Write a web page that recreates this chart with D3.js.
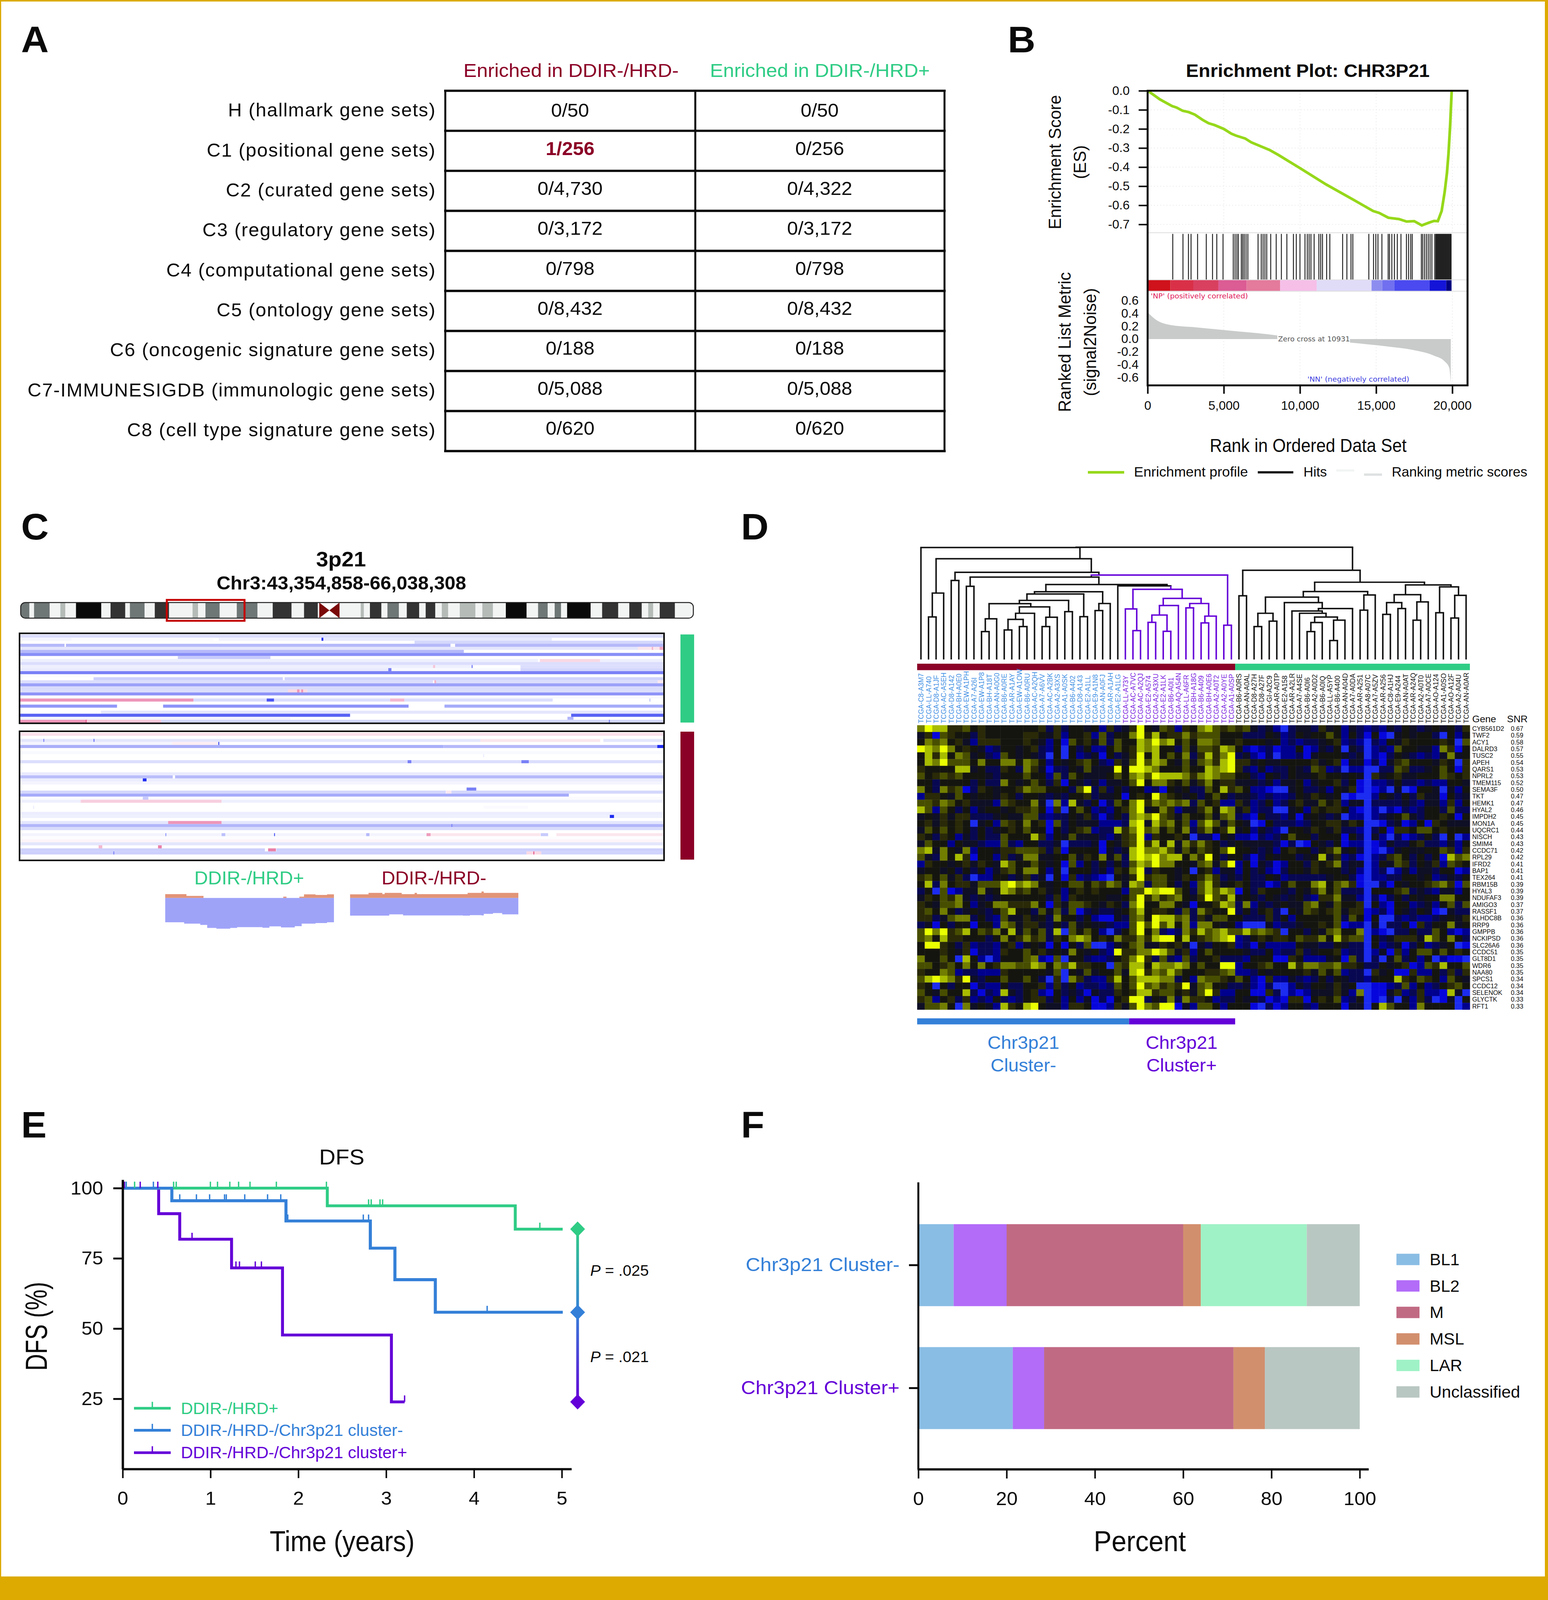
<!DOCTYPE html>
<html>
<head>
<meta charset="utf-8">
<script src="https://cdn.jsdelivr.net/npm/d3@7"></script>
<style>
  html, body { margin: 0; padding: 0; background: #fff; overflow: hidden; }
  svg { display: block; width: 100vw; height: 100vh; }
  text { font-family: "Liberation Sans", Arial, sans-serif; fill: #0a0a0a; }
</style>
</head>
<body>
<svg id="fig" viewBox="0 0 3963 4214" preserveAspectRatio="none"></svg>
<script>
const RED = '#8b0026', GREEN = '#2fcc85', BLUE = '#3480d8', PURPLE = '#6400d8', GOLD = '#dcaa00';

// panel A
const geneSets = ['H (hallmark gene sets)', 'C1 (positional gene sets)', 'C2 (curated gene sets)', 'C3 (regulatory gene sets)', 'C4 (computational gene sets)', 'C5 (ontology gene sets)', 'C6 (oncogenic signature gene sets)', 'C7-IMMUNESIGDB (immunologic gene sets)', 'C8 (cell type signature gene sets)'];
const enrichedNeg = ['0/50', '1/256', '0/4,730', '0/3,172', '0/798', '0/8,432', '0/188', '0/5,088', '0/620'];
const enrichedPos = ['0/50', '0/256', '0/4,322', '0/3,172', '0/798', '0/8,432', '0/188', '0/5,088', '0/620'];

// panel B
const esRank = [0, 100, 800, 1600, 1900, 2300, 2700, 3100, 3600, 4000, 4400, 5000, 5500, 5800, 6400, 6800, 7400, 8000, 8600, 10000, 11700, 13600, 14800, 15200, 15800, 16500, 17000, 17500, 18000, 18500, 18800, 19050, 19300, 19500, 19650, 19750, 19860, 19960];
const esScore = [0, -0.005, -0.045, -0.08, -0.088, -0.105, -0.112, -0.125, -0.152, -0.17, -0.18, -0.2, -0.225, -0.235, -0.25, -0.27, -0.29, -0.31, -0.337, -0.405, -0.49, -0.575, -0.63, -0.64, -0.665, -0.672, -0.685, -0.683, -0.705, -0.69, -0.682, -0.683, -0.63, -0.53, -0.43, -0.33, -0.18, 0];
const hitRanks = [1650, 2320, 2680, 2850, 3280, 3850, 4260, 4540, 4950, 5620, 5740, 5860, 5960, 6150, 6240, 6340, 6460, 6580, 7250, 7460, 7580, 7700, 7820, 8080, 8440, 8780, 9140, 9570, 9760, 10000, 10330, 10480, 10600, 10720, 10930, 11240, 11360, 11480, 11750, 11960, 12800, 13080, 13350, 13470, 14520, 14830, 14980, 15120, 15380, 15790, 15880, 16030, 16200, 16390, 16630, 16990, 17130, 17270, 17370, 17970, 18060, 18180, 18300, 18420, 18540, 18660, 18850, 18920, 18960, 19000, 19040, 19080, 19120, 19160, 19200, 19240, 19280, 19320, 19360, 19400, 19440, 19480, 19520, 19560, 19600, 19640, 19680, 19720, 19760, 19800, 19840, 19880, 19920];
const stripEnds = [1500, 3000, 4640, 6500, 8700, 11100, 14700, 15400, 16200, 18500, 19600, 19950];
const stripColors = ['#d0121c', '#d93048', '#d94060', '#dc5c94', '#e47a9c', '#f5bfe8', '#e0dcf8', '#8d8df0', '#7070f0', '#4a4af0', '#1414d8', '#000080'];
const metricRank = [0, 500, 1500, 3100, 5500, 7900, 8700, 10931, 13300, 15700, 17400, 18800, 19500, 19800, 19900];
const metricValue = [0.42, 0.31, 0.22, 0.185, 0.13, 0.075, 0.05, 0, -0.055, -0.115, -0.17, -0.26, -0.35, -0.45, -0.68];

// panel C, positions are in region units read along the box (44 to 1440)
const bandEnds = [64, 74, 108, 131, 142, 165, 220, 240, 272, 282, 314, 336, 367, 418, 430, 446, 477, 514, 559, 592, 633, 660, 690, 693, 737, 783, 790, 803, 828, 841, 866, 883, 910, 924, 945, 959, 973, 998, 1032, 1047, 1070, 1098, 1143, 1168, 1189, 1204, 1218, 1231, 1282, 1307, 1342, 1366, 1393, 1407, 1418, 1432, 1465, 1505];
const bandStain = 'g w g w l w k w d w g w d w l w g w g w d w d w c w l w d w g w d w d w l w l w l w k w g w g w k w d w d w l w d w'.split(' ');
const cnTop = [
  [0, 44, 1440, -.16], [1, 44, 155, -.05], [1, 155, 463, -.02], [1, 475, 698, -.06], [1, 698, 702, -1], [1, 702, 1198, -.11],
  [2, 900, 1440, -.19], [3, 44, 140, -.33], [3, 143, 978, -.33], [3, 988, 1440, -.33], [4, 44, 1385, -.12], [4, 1385, 1432, .13], [4, 1415, 1418, .4], [4, 1432, 1440, .45],
  [5, 44, 1007, -.33], [6, 44, 1440, -.53], [7, 386, 587, -.25], [8, 44, 1168, -.07], [8, 1172, 1303, .2], [8, 1303, 1440, -.07],
  [9, 44, 1440, -.155], [10, 44, 940, -.07], [10, 940, 945, .3], [10, 945, 1024, -.07], [10, 1024, 1026, -.7], [10, 1130, 1440, -.155],
  [11, 44, 843, -.1], [11, 843, 850, -.6], [11, 850, 1130, -.03], [11, 1130, 1440, -.19], [12, 44, 1440, -.6], [13, 44, 1440, -.01],
  [14, 203, 614, -.225], [14, 618, 1440, -.21], [15, 44, 940, -.155], [15, 943, 947, .4], [15, 947, 1428, -.155], [15, 1428, 1440, .12],
  [16, 44, 1440, -.44], [17, 44, 1440, -.17], [18, 44, 625, -.155], [18, 625, 667, .2], [18, 645, 650, .55], [18, 654, 658, .55], [18, 667, 1440, -.155],
  [19, 44, 1440, -.51], [20, 44, 1440, -.03], [21, 44, 420, .55], [21, 420, 579, -.17], [21, 579, 595, -.8], [21, 595, 847, -.155], [21, 847, 878, .37], [21, 878, 1200, -.15], [21, 1410, 1412, -.3],
  [23, 44, 254, -.49], [23, 354, 887, -.51], [23, 965, 1440, -.4], [25, 219, 1440, -.12],
  [26, 44, 760, -.74], [26, 1240, 1440, -.74], [27, 44, 630, -.05], [27, 1232, 1245, -.35], [28, 44, 188, .55], [28, 186, 190, .9], [28, 188, 350, .29], [28, 350, 1440, -.19], [28, 1322, 1324, -.6]
];
const cnBottom = [
  [0, 44, 1440, .16], [2, 44, 1043, -.12], [2, 94, 96, -.6], [2, 203, 205, -.7], [2, 1043, 1303, .13], [2, 1310, 1440, -.12],
  [3, 44, 373, -.05], [3, 373, 475, .09], [3, 474, 476, -.9], [4, 44, 963, -.38], [4, 963, 1427, -.33], [4, 1427, 1440, -1],
  [6, 44, 1440, -.03], [7, 1049, 1051, -.1], [9, 44, 1440, -.155], [9, 885, 893, -.6], [9, 1132, 1148, -.6], [13, 44, 1440, -.1],
  [14, 44, 375, -.31], [14, 380, 1440, -.33], [15, 44, 1440, -.085], [15, 310, 318, -1], [16, 44, 1440, -.05], [18, 1013, 1034, -.6],
  [19, 44, 968, -.19], [19, 969, 980, .12], [19, 980, 1440, -.19], [20, 44, 1235, -.4], [21, 44, 1440, -.02], [21, 310, 322, -.25],
  [22, 44, 175, -.07], [22, 175, 481, .25], [22, 481, 1440, -.07], [24, 1050, 1147, -.02], [24, 72, 74, -.1], [26, 44, 1440, -.085],
  [27, 44, 1440, -.07], [27, 1324, 1333, -1], [29, 44, 365, -.12], [29, 365, 481, .55], [29, 481, 1440, -.12], [30, 44, 1440, -.35], [30, 980, 982, -.6],
  [31, 44, 1440, -.17], [33, 44, 930, -.05], [33, 359, 361, -.5], [33, 481, 489, -.3], [33, 595, 597, -.8], [33, 795, 802, -.33], [33, 926, 935, .52], [33, 935, 1173, .13], [33, 1174, 1190, -.25], [33, 1208, 1440, .13],
  [34, 44, 1440, -.01], [35, 44, 1440, .05], [36, 44, 1440, -.12], [37, 214, 222, .37], [37, 343, 351, .67],
  [38, 44, 575, -.225], [38, 582, 599, .67], [38, 600, 1440, -.225], [39, 44, 1143, -.225], [39, 246, 248, -.6], [39, 1143, 1175, .2], [39, 1158, 1160, .9], [39, 1175, 1440, -.21]
];
const profNegPos = [359, 405, 442, 615, 622, 650, 660, 685, 710, 725];
const profNegGain = [15, 8, 0, 5, 0, 5, 14, 12, 14, 16];
const profNegLossPos = [359, 400, 435, 450, 470, 500, 515, 570, 585, 610, 640, 655, 685, 710, 725];
const profNegLoss = [95, 100, 105, 117, 120, 117, 114, 116, 111, 115, 110, 100, 98, 95, 95];
const profPosPos = [760, 800, 830, 835, 872, 900, 905, 1015, 1045, 1050, 1125];
const profPosGain = [14, 20, 15, 20, 15, 20, 15, 20, 25, 20, 20];
const profPosLossPos = [760, 845, 875, 1005, 1020, 1045, 1050, 1070, 1090, 1125];
const profPosLoss = [69, 64, 68, 69, 67, 68, 62, 59, 64, 64];

// panel D
const samples = ['C8-A3M7', 'LL-A740', 'D8-A1JF', 'AC-A5EH', 'D8-A142', 'BH-A0E0', 'EW-A1PH', 'A7-A26I', 'EW-A1P8', 'BH-A18T', 'AN-A0G0', 'B6-A0RE', 'AR-A1AY', 'EW-A1OW', 'B6-A0RU', 'AC-A2QH', 'A7-A6VV', 'AC-A2BK', 'A2-A3XS', 'A1-A0SK', 'B6-A402', 'D8-A143', 'E2-A1LL', 'E9-A1N8', 'AN-A0FJ', 'AR-A1AH', 'E2-A1LG',
  'LL-A73Y', 'AC-A7VC', 'AC-A2QJ', 'E2-A574', 'A2-A3XU', 'E2-A1LK', 'B6-A0I1', 'AQ-A54N', 'LL-A6FR', 'BH-A18G', 'B6-A409', 'BH-A0E6', 'A2-A0T2', 'A2-A0YE', 'A1-A0SP',
  'B6-A0RS', 'AN-A0AL', 'D8-A27H', 'D8-A27F', 'GI-A2C9', 'AR-A0TP', 'E2-A158', 'AR-A2LR', 'A7-A4SE', 'B6-A0I6', 'A2-A0D2', 'B6-A0IQ', 'LL-A5YP', 'B6-A400', 'AN-A04D', 'A7-A0DA', 'AR-A251', 'A8-A07C', 'A7-A5ZV', 'AR-A256', 'C8-A1HJ', 'E9-A244', 'AN-A0AT', 'AR-A24Q', 'A2-A0T0', 'A7-A0CE', 'AO-A124', 'A1-A0SO', 'AO-A12F', 'A2-A04U', 'AN-A0AR'];
const genes = ['CYB561D2', 'TWF2', 'ACY1', 'DALRD3', 'TUSC2', 'APEH', 'QARS1', 'NPRL2', 'TMEM115', 'SEMA3F', 'TKT', 'HEMK1', 'HYAL2', 'IMPDH2', 'MON1A', 'UQCRC1', 'NISCH', 'SMIM4', 'CCDC71', 'RPL29', 'IFRD2', 'BAP1', 'TEX264', 'RBM15B', 'HYAL3', 'NDUFAF3', 'AMIGO3', 'RASSF1', 'KLHDC8B', 'RRP9', 'GMPPB', 'NCKIPSD', 'SLC26A6', 'CCDC51', 'GLT8D1', 'WDR6', 'NAA80', 'SPCS1', 'CCDC12', 'SELENOK', 'GLYCTK', 'RFT1'];
const snr = ['0.67', '0.59', '0.58', '0.57', '0.55', '0.54', '0.53', '0.53', '0.52', '0.50', '0.47', '0.47', '0.46', '0.45', '0.45', '0.44', '0.43', '0.43', '0.42', '0.42', '0.41', '0.41', '0.41', '0.39', '0.39', '0.39', '0.37', '0.37', '0.36', '0.36', '0.36', '0.36', '0.36', '0.35', '0.35', '0.35', '0.35', '0.34', '0.34', '0.34', '0.33', '0.33'];
// expression level per cell, 0 = bright blue, 5 = black, a = bright yellow
const heatCols0to43 = [
  '8a99667565 5555556363 554526346a 5476265897 6767',
  '4617655365 5555665462 556273558a 6956686777 5553',
  '5878564266 6555654251 7564737559 8a89575887 5565',
  'a98a856542 3554563250 5352257569 8955374776 9852',
  '5969587453 2754543050 523415346a 5957583696 8a34',
  '598a777585 5885875254 567532647a 7985474786 9a66',
  '6555599453 3653864133 547444a5aa 9855575598 9a63',
  '7567675554 3555755273 7544457589 7a99986898 7755',
  '5535555353 3854575361 543424457a 5886574685 6644',
  '8538671365 4556877555 37a3635355 2315453375 9675',
  '2665475455 4653554343 5563445156 5a76545357 5344',
  '7768756444 2765584082 943513758a 6878783756 2264',
  '9727535245 5456675160 575232568a 4586244685 9846',
  '4546466333 4544773233 5463135389 8a76475574 7832',
  '5646565045 2765856173 544422239a 4978572797 4754',
  '4757565353 4565755153 567233968a 7857583685 6945',
  '6536524353 3755596254 744432467a 2655650331 5422',
  '4755254432 2732553340 333415467a 6959486865 3454',
  '8948548255 4667776361 555514349a 8897475765 7a55',
  '7438596155 2634884455 746584739a 9a899586a5 3553',
  '2655456465 4975575451 7253535379 8a88554784 7a25',
  '4554535352 4675885250 555342658a 3655450562 4425',
  '6757463022 5534634051 623210546a 6775465686 3435',
  '5938566477 79a8985455 7757687498 3775352796 4565',
  '3507124484 5986756452 5656555277 a9aa753797 9815',
  '4657684343 4555555362 655554457a 68678546a7 6945',
  '6547785245 8866685164 776546538a 5588541556 9838',
  '6758534543 5795537473 7134334579 5665373865 5a35',
  '6634788353 2744645385 5352114378 5a99783647 7553',
  '3415355155 2874664353 745443227a 7a79582885 4520',
  '7a8a679576 8594757390 757520357a 5832386978 9779',
  '7859665553 5856867365 8985658668 69aa595678 9a23',
  '5aa6536233 2562454151 5370024578 4465640435 5623',
  '5556546133 2655756454 854532a668 8a97462575 5554',
  '8557509520 2555782170 553223568a 6373273556 3332',
  '7756758585 6887798587 9665507699 5988985755 aa25',
  '6558723322 2655555470 547455749a 6879755566 7822',
  '79a986a435 5755753060 8632269579 9988352877 6575',
  '6505355132 2533556263 523323757a 78676a4785 5334',
  '7547559313 2943562153 4314336569 96775647a6 2255',
  '6725636232 5323566352 52413156aa 3548386652 3354',
  '4778508454 29659a5442 665112647a 87aa142775 2555'
];
const heatCols44to72 = [
  '4342034436 4524323243 543454536', '3354235455 7525315104 545530525', '5545232334 5623203254 655556507',
  '1231225124 3504302327 554428615', '2130223145 5543402135 432324845', '4544555564 5614413146 755546506',
  '2423354376 2302200337 633457516', '3254354456 5545406456 445557656', '4342445245 5635102235 332322554',
  '2210045334 2546101204 015540425', '3232235465 4501002543 536441534', '2352356447 5624403333 432442625',
  '2330045265 6652102021 323553733', '1533241454 3402202345 743556515', '0153332355 6646500134 125165444',
  '2432055465 4633203516 657756555', '1323575535 5515304203 123530502', '4443130154 3512201243 356332425',
  '4342565535 6845301024 544557626', '1354553459 4623102367 535351978', '1431255365 6834402547 635462765',
  '3421355465 5534202302 424435512', '3354233333 4553102233 554523435', '3312575589 5786100315 455678617',
  '3655435468 5733305556 734324425', '4354345326 6844203135 354558855', '2434544785 4755605215 523425737',
  '3563054765 6746612315 435410433', '3363525555 5737515003 232234546', '0042334556 5712204033 516355845',
  '7876055354 7855802103 353375212', '5656657668 5967705346 664975853', '1422225443 3543305234 135234501',
  '3352336345 5623302416 257757565', '5551165222 4517303047 352502110', '5675596887 7866533545 612769557',
  '3545555647 5723306451 162253636', '2162243235 3543325559 657652754', '2130024355 4645001123 725235675',
  '1163021244 4642801146 236221940', '4312166156 5723501030 426301405', '1031255325 5514405975 528555502'
];
const heatPalette = ['#1c2cf0', '#0606dc', '#00008e', '#080852', '#0f0f26', '#151510', '#2a2a08', '#484e00', '#727e00', '#a8bc00', '#eaff00'];
// [merge height, left, right], a plain number is a leaf
const dendrogram = [828,
  [826, 0,
    [743, [490, [314, 1, 2], 3],
      [643, [583, 4, 5],
        [623,
          [608, [540, 6, 7],
            [553,
              [500,
                [483,
                  [436,
                    [412, [300, [206, 8, 9], 10],
                      [388, [341, [296, [218, 11, 12], [243, 13, 14]], 15], [312, [243, 16, 17], 18]]],
                    [353, 19, 20]],
                  [316, 21, 22]],
                [413, [361, 23, 24], 25]],
              [543, 26,
                [518, [373, 27, [213, 28, 29]],
                  [451,
                    [398, [328, [274, 30, 31], [208, 32, 33]], 34],
                    [413, [381, 35, 36], [320, [270, 37, 38], 39]]]]]]],
          [253, 40, 41]]]]],
  [658, [470, 42, 43],
    [570,
      [501,
        [460,
          [341, [243, 44, 45], [283, 46, 47]],
          [420, 48,
            [376,
              [358, 49,
                [341, 50,
                  [313, [273, [206, 51, 52], 53], [290, [140, 54, 55], 56]]]],
              57]]],
        [476, [364, 58, 59], 60]],
      [550,
        [478,
          [420, [333, 61, 62], [376, 63, 64]],
          [425, [290, 65, 66], 67]],
        [536, [345, 68, 69], [473, [306, 70, 71], 72]]]]]];

// panel E
const kmSeries = [
  { name: 'DDIR-/HRD+', color: GREEN, time: [0, 2.33, 4.47, 5.01], surv: [100, 93.7, 85.4, 85.4], censor: [[.04, 100], [.136, 100], [.58, 100], [.61, 100], [.999, 100], [1.08, 100], [1.22, 100], [1.32, 100], [1.45, 100], [1.75, 100], [2.32, 100], [2.80, 93.7], [2.83, 93.7], [2.93, 93.7], [2.96, 93.7], [4.75, 85.4]] },
  { name: 'DDIR-/HRD-/Chr3p21 cluster-', color: BLUE, time: [0, .56, 1.86, 2.82, 3.1, 3.56, 5.01], surv: [100, 95.5, 88.3, 78.6, 67.4, 55.8, 55.8], censor: [[.04, 100], [.35, 100], [.65, 95.5], [.84, 95.5], [.99, 95.5], [1.16, 95.5], [1.18, 95.5], [1.39, 95.5], [1.65, 95.5], [1.80, 95.5], [1.88, 88.3], [2.74, 88.3], [2.80, 88.3], [4.15, 55.8]] },
  { name: 'DDIR-/HRD-/Chr3p21 cluster+', color: PURPLE, time: [0, .41, .65, 1.24, 1.82, 3.06, 3.21], surv: [100, 90.9, 81.8, 71.6, 47.7, 23.9, 23.9], censor: [[.02, 100], [.2, 100], [.4, 100], [.79, 81.8], [1.29, 71.6], [1.33, 71.6], [1.51, 71.6], [1.58, 71.6], [3.21, 23.9]] }
];

// panel F
const subtypes = ['BL1', 'BL2', 'M', 'MSL', 'LAR', 'Unclassified'];
const subtypeColors = ['#8abde4', '#b26cf8', '#c16a84', '#d28f6e', '#9ff2c6', '#b9c7c2'];
const clusterNames = ['Chr3p21 Cluster-', 'Chr3p21 Cluster+'];
const clusterColors = [BLUE, PURPLE];
const clusterPct = [[8, 12, 40, 4, 24, 12], [21.4, 7.1, 42.9, 7.1, 0, 21.5]];

const svg = d3.select('#fig');

function txt(parent, x, y, str, o) {
  o = o || {};
  const t = parent.append('text').attr('x', x).attr('y', y).text(str)
    .style('font-size', (o.size || 45) + 'px')
    .attr('text-anchor', o.anchor || 'start');
  if (o.fill) t.style('fill', o.fill);
  if (o.bold) t.style('font-weight', 'bold');
  if (o.family) t.style('font-family', o.family);
  if (o.spacing) t.style('letter-spacing', o.spacing + 'px');
  if (o.width) t.attr('textLength', o.width).attr('lengthAdjust', 'spacingAndGlyphs');
  if (o.rotate) t.attr('transform', `rotate(${o.rotate},${x},${y})`);
  return t;
}

function styleAxis(g, width, size) {
  g.selectAll('path').attr('stroke', '#0a0a0a').attr('stroke-width', width);
  g.selectAll('line').attr('stroke', '#0a0a0a').attr('stroke-width', width);
  g.selectAll('text').style('font-size', size + 'px').style('font-family', '"Liberation Sans"').style('fill', '#0a0a0a');
}

// page frame
svg.append('rect').attr('width', 3963).attr('height', 4214).attr('fill', '#fff');
[[0, 0, 3963, 4], [0, 0, 3, 4214], [3955, 0, 8, 4214], [0, 4152, 3963, 62]].forEach(r => {
  svg.append('rect').attr('x', r[0]).attr('y', r[1]).attr('width', r[2]).attr('height', r[3]).attr('fill', GOLD);
});

[['A', 54, 138], ['B', 2580, 138], ['C', 54, 1421], ['D', 1897, 1421], ['E', 54, 2996], ['F', 1897, 2996]].forEach(p => {
  txt(svg, p[1], p[2], p[0], { size: 98, bold: true });
});

drawTable();
drawEnrichment();
drawCopyNumber();
drawHeatmap();
drawSurvival();
drawSubtypes();

function drawTable() {
  const g = svg.append('g');
  const rowY = d3.scaleBand().domain(d3.range(geneSets.length)).range([239, 1188]);
  const colX = d3.scaleBand().domain([0, 1]).range([1140, 2418]);
  txt(g, 1462, 203, 'Enriched in DDIR-/HRD-', { size: 49, fill: RED, anchor: 'middle', width: 551 });
  txt(g, 2099, 203, 'Enriched in DDIR-/HRD+', { size: 49, fill: GREEN, anchor: 'middle', width: 563 });
  geneSets.forEach((name, i) => {
    txt(g, 1116, 307 + 105.3 * i, name, { size: 49, anchor: 'end', spacing: 1.8 });
    const base = i === 0 ? 308 : 408 + 105.3 * (i - 1);
    txt(g, colX(0) + colX.bandwidth() / 2, base, enrichedNeg[i], i === 1 ? { size: 50, anchor: 'middle', fill: RED, bold: true } : { size: 50, anchor: 'middle' });
    txt(g, colX(1) + colX.bandwidth() / 2, base, enrichedPos[i], { size: 50, anchor: 'middle' });
  });
  rowY.domain().concat(geneSets.length).forEach(i => {
    const y = i === geneSets.length ? 1188 : rowY(i);
    g.append('line').attr('x1', 1137).attr('x2', 2421).attr('y1', y).attr('y2', y).attr('stroke', '#0a0a0a').attr('stroke-width', 6);
  });
  [1140, 1780, 2418].forEach(x => {
    g.append('line').attr('x1', x).attr('x2', x).attr('y1', 239).attr('y2', 1188).attr('stroke', '#0a0a0a').attr('stroke-width', 5);
  });
}

function drawEnrichment() {
  const g = svg.append('g');
  const L = 2938, R = 3757, T = 239, B = 1015;
  const x = d3.scaleLinear().domain([0, 20000]).range([L, 3718]);
  const yEs = d3.scaleLinear().domain([-0.7, 0]).range([591, 239]);
  const yM = d3.scaleLinear().domain([-0.6, 0.6]).range([994, 792]);

  // faint grid
  d3.range(5000, 20001, 5000).forEach(v => {
    g.append('line').attr('x1', x(v)).attr('x2', x(v)).attr('y1', T).attr('y2', 611).attr('stroke', '#eee').attr('stroke-dasharray', '3 5').attr('stroke-width', 2);
    g.append('line').attr('x1', x(v)).attr('x2', x(v)).attr('y1', 770).attr('y2', B).attr('stroke', '#eee').attr('stroke-dasharray', '3 5').attr('stroke-width', 2);
  });
  d3.range(-0.7, 0, 0.1).forEach(v => {
    g.append('line').attr('x1', L).attr('x2', R).attr('y1', yEs(v)).attr('y2', yEs(v)).attr('stroke', '#eee').attr('stroke-dasharray', '3 5').attr('stroke-width', 2);
  });

  // ranked metric
  const area = d3.area().x((d, i) => x(metricRank[i])).y0(yM(0)).y1(d => yM(d)).curve(d3.curveMonotoneX);
  g.append('path').datum(metricValue).attr('d', area).attr('fill', '#c9cbcb');

  // hits
  g.selectAll('line.hit').data(hitRanks).enter().append('line').attr('class', 'hit')
    .attr('x1', d => x(d)).attr('x2', d => x(d)).attr('y1', 616).attr('y2', 737)
    .attr('stroke', '#222').attr('stroke-width', 2.4);

  // colour strip
  g.selectAll('rect.strip').data(stripEnds).enter().append('rect').attr('class', 'strip')
    .attr('x', (d, i) => x(i ? stripEnds[i - 1] : 0)).attr('width', (d, i) => x(d) - x(i ? stripEnds[i - 1] : 0))
    .attr('y', 737).attr('height', 30).attr('fill', (d, i) => stripColors[i]);
  [613, 737, 767].forEach(y => {
    g.append('line').attr('x1', L).attr('x2', R).attr('y1', y).attr('y2', y).attr('stroke', '#ddd').attr('stroke-width', 2);
  });

  // enrichment profile
  const line = d3.line().x((d, i) => x(esRank[i])).y(d => yEs(d));
  g.append('path').datum(esScore).attr('d', line).attr('fill', 'none').attr('stroke', '#96d81a').attr('stroke-width', 7);

  g.append('rect').attr('x', 3270).attr('y', 876).attr('width', 186).attr('height', 30).attr('fill', '#fff');
  const small = { family: '"DejaVu Sans"', size: 18 };
  txt(g, 3272, 899, 'Zero cross at 10931', Object.assign({ fill: '#555', width: 184 }, small));
  txt(g, 2946, 786, "'NP' (positively correlated)", Object.assign({ fill: '#e0205a', width: 249 }, small));
  txt(g, 3347, 1005, "'NN' (negatively correlated)", Object.assign({ fill: '#4040e0', width: 261 }, small));

  // frame and axes
  g.append('rect').attr('x', L).attr('y', T).attr('width', R - L).attr('height', B - T).attr('fill', 'none').attr('stroke', '#0a0a0a').attr('stroke-width', 5);
  const axL = g.append('g').attr('transform', `translate(${L},0)`)
    .call(d3.axisLeft(yEs).tickValues([-0.7, -0.6, -0.5, -0.4, -0.3, -0.2, -0.1, 0]).tickSize(23).tickPadding(23).tickFormat(d => d.toFixed(1)));
  styleAxis(axL, 4, 32);
  axL.select('.domain').remove();
  const axM = g.append('g').attr('transform', `translate(${L},0)`)
    .call(d3.axisLeft(yM).tickValues([-0.6, -0.4, -0.2, 0, 0.2, 0.4, 0.6]).tickSize(0).tickPadding(23).tickFormat(d => d.toFixed(1)));
  styleAxis(axM, 4, 32);
  axM.select('.domain').remove();
  const axB = g.append('g').attr('transform', `translate(0,${B})`)
    .call(d3.axisBottom(x).tickValues([0, 5000, 10000, 15000, 20000]).tickSize(22).tickPadding(20).tickFormat(d3.format(',')));
  styleAxis(axB, 4, 32);
  axB.select('.domain').remove();

  txt(g, 3348, 203, 'Enrichment Plot: CHR3P21', { size: 48, bold: true, anchor: 'middle', width: 624 });
  txt(g, 2716, 427, 'Enrichment Score', { size: 44.5, anchor: 'middle', rotate: -90 });
  txt(g, 2780, 427, '(ES)', { size: 44.5, anchor: 'middle', rotate: -90 });
  txt(g, 2741, 901, 'Ranked List Metric', { size: 44.5, anchor: 'middle', rotate: -90 });
  txt(g, 2806, 901, '(signal2Noise)', { size: 44.5, anchor: 'middle', rotate: -90 });
  txt(g, 3349, 1190, 'Rank in Ordered Data Set', { size: 50, anchor: 'middle', width: 504 });

  // legend
  const leg = g.append('g');
  leg.append('line').attr('x1', 2785).attr('x2', 2878).attr('y1', 1244).attr('y2', 1244).attr('stroke', '#96d81a').attr('stroke-width', 7);
  leg.append('line').attr('x1', 3220).attr('x2', 3311).attr('y1', 1244).attr('y2', 1244).attr('stroke', '#111').attr('stroke-width', 6);
  leg.append('line').attr('x1', 3421).attr('x2', 3467).attr('y1', 1239).attr('y2', 1239).attr('stroke', '#f2f4f4').attr('stroke-width', 6);
  leg.append('line').attr('x1', 3492).attr('x2', 3538).attr('y1', 1250).attr('y2', 1250).attr('stroke', '#dfe2e2').attr('stroke-width', 6);
  txt(leg, 2903, 1255, 'Enrichment profile', { size: 36, width: 292 });
  txt(leg, 3337, 1255, 'Hits', { size: 36, width: 60 });
  txt(leg, 3563, 1255, 'Ranking metric scores', { size: 36, width: 347 });
}

function drawCopyNumber() {
  const g = svg.append('g');
  txt(g, 873, 1492, '3p21', { size: 56, bold: true, anchor: 'middle' });
  txt(g, 874, 1552, 'Chr3:43,354,858-66,038,308', { size: 49, bold: true, anchor: 'middle', width: 639 });

  // ideogram
  const idx = d3.scaleLinear().domain([45, 1505]).range([53, 1775]);
  const top = 1587, bot = 1628;
  const stain = { w: '#f2f4f3', l: '#b5bcb8', g: '#6f7676', d: '#333', k: '#0a0a0a', c: '#fff' };
  const clip = g.append('clipPath').attr('id', 'chrClip');
  clip.append('rect').attr('x', idx(45)).attr('y', top).attr('width', idx(1505) - idx(45)).attr('height', bot - top).attr('rx', 12);
  const ideo = g.append('g').attr('clip-path', 'url(#chrClip)');
  ideo.selectAll('rect').data(bandEnds).enter().append('rect')
    .attr('x', (d, i) => idx(i ? bandEnds[i - 1] : 45)).attr('width', (d, i) => idx(d) - idx(i ? bandEnds[i - 1] : 45))
    .attr('y', top).attr('height', bot - top).attr('fill', (d, i) => stain[bandStain[i]]);
  const cenL = idx(693), cenR = idx(737), cenM = idx(715), cenY = (top + bot) / 2;
  g.append('path').attr('d', `M${cenL},${top}L${cenM},${cenY}L${cenL},${bot}Z M${cenR},${top}L${cenM},${cenY}L${cenR},${bot}Z`).attr('fill', '#7b0a0a');
  g.append('rect').attr('x', idx(45)).attr('y', top).attr('width', idx(1505) - idx(45)).attr('height', bot - top).attr('rx', 12).attr('fill', 'none').attr('stroke', '#222').attr('stroke-width', 2.5);
  g.append('rect').attr('x', 427).attr('y', 1580).attr('width', 199).attr('height', 55).attr('fill', 'none').attr('stroke', '#c40000').attr('stroke-width', 5);

  // segment tables
  const pos = d3.scaleLinear().domain([44, 1440]).range([52, 1698]);
  const cn = d3.scaleLinear().domain([-1, 0, 1]).range(['#1f2cf0', '#ffffff', '#e0407f']);
  function panel(segs, y0, boxTop, boxBot) {
    g.append('g').selectAll('rect').data(segs).enter().append('rect')
      .attr('x', d => pos(d[1])).attr('width', d => pos(d[2]) - pos(d[1]))
      .attr('y', d => y0 + d[0] * 8.01).attr('height', 8.1).attr('fill', d => cn(d[3]));
    g.append('rect').attr('x', 50).attr('y', boxTop).attr('width', 1650).attr('height', boxBot - boxTop).attr('fill', 'none').attr('stroke', '#0a0a0a').attr('stroke-width', 4);
  }
  panel(cnTop, 1671.5, 1668, 1905);
  panel(cnBottom, 1930, 1926, 2266);
  g.append('rect').attr('x', 1742).attr('y', 1671).attr('width', 35).attr('height', 232).attr('fill', GREEN);
  g.append('rect').attr('x', 1742).attr('y', 1927).attr('width', 35).attr('height', 337).attr('fill', RED);

  txt(g, 638, 2329, 'DDIR-/HRD+', { size: 50, anchor: 'middle', fill: GREEN, width: 281 });
  txt(g, 1111, 2329, 'DDIR-/HRD-', { size: 50, anchor: 'middle', fill: RED, width: 268 });

  // gain and loss profiles under the labels
  const px = d3.scaleLinear().domain([359, 1125]).range([423, 1327]);
  const base = 2365;
  const depth = d3.scaleLinear().domain([0, 120]).range([0, 81]);
  function profile(p, v, up, color) {
    const a = d3.area().x((d, i) => px(p[i])).y0(base).y1(d => up ? base - depth(d) : base + depth(d)).curve(d3.curveStepAfter);
    g.append('path').datum(v).attr('d', a).attr('fill', color);
  }
  profile(profNegPos, profNegGain, true, '#e29478');
  profile(profNegLossPos, profNegLoss, false, '#9fa3f8');
  profile(profPosPos, profPosGain, true, '#e29478');
  profile(profPosLossPos, profPosLoss, false, '#9fa3f8');
}

function drawHeatmap() {
  const g = svg.append('g');
  const col = d3.scaleBand().domain(d3.range(samples.length)).range([2348, 3763]);
  const row = d3.scaleBand().domain(d3.range(genes.length)).range([1910, 2659]);
  const level = d3.scaleQuantize().domain([0, 11]).range(heatPalette);
  const cells = [];
  genes.forEach((gene, r) => {
    const codes = (heatCols0to43[r] + heatCols44to72[r]).replace(/ /g, '');
    codes.split('').forEach((c, k) => cells.push({ r: r, k: k, v: parseInt(c, 16) + 0.5 }));
  });
  g.append('g').selectAll('rect').data(cells).enter().append('rect')
    .attr('x', d => col(d.k)).attr('y', d => row(d.r))
    .attr('width', col.bandwidth() + 0.4).attr('height', row.bandwidth() + 0.4)
    .attr('fill', d => level(d.v));

  // dendrogram
  const root = d3.hierarchy(dendrogram, d => Array.isArray(d) ? d.slice(1) : null);
  const yH = d3.scaleLinear().domain([0, 826]).range([1737, 1442]);
  const leafX = n => col(n.data) + col.bandwidth() / 2;
  root.each(n => { n.px = d3.mean(n.leaves(), leafX); n.h = Array.isArray(n.data) ? n.data[0] : 0; });
  const isPurple = n => n.leaves().every(l => l.data >= 27 && l.data <= 41);
  const links = [];
  root.descendants().filter(n => n.children).forEach(n => {
    const xs = n.children.map(c => c.px);
    const mergedAcross = n.h === 623;
    links.push({ x1: d3.min(xs) - 1.9, x2: d3.max(xs) + 1.9, y1: yH(n.h), y2: yH(n.h), purple: isPurple(n) || mergedAcross });
    n.children.forEach(c => links.push({ x1: c.px, x2: c.px, y1: yH(n.h), y2: yH(c.h), purple: isPurple(c) }));
  });
  links.sort((a, b) => a.purple - b.purple);
  g.append('g').selectAll('line').data(links).enter().append('line')
    .attr('x1', d => d.x1).attr('x2', d => d.x2).attr('y1', d => d.y1).attr('y2', d => d.y2)
    .attr('stroke', d => d.purple ? PURPLE : '#111').attr('stroke-width', 3.8);

  // class bars
  g.append('rect').attr('x', col(0)).attr('y', 1748).attr('width', col(42) - col(0)).attr('height', 17).attr('fill', RED);
  g.append('rect').attr('x', col(42)).attr('y', 1748).attr('width', 3763 - col(42)).attr('height', 17).attr('fill', GREEN);
  g.append('rect').attr('x', col(0)).attr('y', 2682).attr('width', col(28) - col(0)).attr('height', 16).attr('fill', BLUE);
  g.append('rect').attr('x', col(28)).attr('y', 2682).attr('width', col(42) - col(28)).attr('height', 16).attr('fill', PURPLE);

  // sample labels
  samples.forEach((s, i) => {
    const c = i < 27 ? '#3f8fe4' : i < 42 ? '#7a1ce0' : '#111';
    txt(g, col(i) + col.bandwidth() / 2 + 6.5, 1905, 'TCGA-' + s, { size: 18, fill: c, rotate: -90 });
  });

  // gene table
  txt(g, 3769, 1902, 'Gene', { size: 25 });
  txt(g, 3858, 1902, 'SNR', { size: 25 });
  genes.forEach((gene, r) => {
    const y = row(r) + row.bandwidth() / 2 + 6;
    txt(g, 3769, y, gene, { size: 16.3 });
    txt(g, 3868, y, snr[r], { size: 16.3 });
  });

  txt(g, 2620, 2762, 'Chr3p21', { size: 48, fill: BLUE, anchor: 'middle' });
  txt(g, 2620, 2822, 'Cluster-', { size: 48, fill: BLUE, anchor: 'middle' });
  txt(g, 3025, 2762, 'Chr3p21', { size: 48, fill: PURPLE, anchor: 'middle' });
  txt(g, 3025, 2822, 'Cluster+', { size: 48, fill: PURPLE, anchor: 'middle' });
}

function drawSurvival() {
  const g = svg.append('g');
  const x = d3.scaleLinear().domain([0, 5.11]).range([314, 1463]);
  const y = d3.scaleLinear().domain([0, 103]).range([3869, 3107]);
  const line = d3.line().curve(d3.curveStepAfter);

  // last series on top, the blue runs over the green at first
  kmSeries.slice().reverse().concat([kmSeries[1]]).forEach(s => {
    g.append('path').attr('d', line(s.time.map((t, i) => [x(t), y(s.surv[i])])))
      .attr('fill', 'none').attr('stroke', s.color).attr('stroke-width', 7.5);
  });
  kmSeries.forEach(s => {
    g.append('g').selectAll('line').data(s.censor).enter().append('line')
      .attr('x1', d => x(d[0])).attr('x2', d => x(d[0])).attr('y1', d => y(d[1])).attr('y2', d => y(d[1]) - 17)
      .attr('stroke', s.color).attr('stroke-width', 3.5);
  });

  const axX = g.append('g').attr('transform', `translate(0,${y(0)})`)
    .call(d3.axisBottom(x).tickValues([0, 1, 2, 3, 4, 5]).tickSize(24).tickSizeOuter(0).tickPadding(34).tickFormat(d3.format('d')));
  styleAxis(axX, 6, 50);
  axX.selectAll('.tick line').attr('stroke-width', 4);
  const axY = g.append('g').attr('transform', `translate(${x(0)},0)`)
    .call(d3.axisLeft(y).tickValues([25, 50, 75, 100]).tickSize(24).tickSizeOuter(0).tickPadding(26));
  styleAxis(axY, 6, 50);
  axY.selectAll('.tick line').attr('stroke-width', 5);

  // comparison bracket
  const bx = x(5.18);
  const ends = kmSeries.map(s => s.surv[s.surv.length - 1]);
  const grad = svg.append('defs').append('linearGradient').attr('id', 'bracket')
    .attr('gradientUnits', 'userSpaceOnUse').attr('x1', 0).attr('x2', 0).attr('y1', y(ends[0])).attr('y2', y(ends[2]));
  grad.append('stop').attr('offset', 0).attr('stop-color', GREEN);
  grad.append('stop').attr('offset', (y(ends[1]) - y(ends[0])) / (y(ends[2]) - y(ends[0]))).attr('stop-color', BLUE);
  grad.append('stop').attr('offset', 1).attr('stop-color', PURPLE);
  g.append('rect').attr('x', bx - 3.5).attr('y', y(ends[0])).attr('width', 7).attr('height', y(ends[2]) - y(ends[0])).attr('fill', 'url(#bracket)');
  kmSeries.forEach((s, i) => {
    g.append('path').attr('d', `M${bx},${y(ends[i]) - 20}L${bx + 19},${y(ends[i])}L${bx},${y(ends[i]) + 20}L${bx - 19},${y(ends[i])}Z`).attr('fill', s.color);
  });
  [['.025', 3360], ['.021', 3587]].forEach(p => {
    const t = txt(g, 1511, p[1], '', { size: 40 });
    t.append('tspan').style('font-style', 'italic').text('P');
    t.append('tspan').text(' = ' + p[0]);
  });

  // legend
  [3709, 3767, 3826].forEach((ly, i) => {
    const s = kmSeries[i];
    g.append('line').attr('x1', 343).attr('x2', 437).attr('y1', ly).attr('y2', ly).attr('stroke', s.color).attr('stroke-width', 7);
    g.append('line').attr('x1', 390).attr('x2', 390).attr('y1', ly).attr('y2', ly - 17).attr('stroke', s.color).attr('stroke-width', 3.5);
    txt(g, 463, ly + 15, s.name, { size: 43, fill: s.color });
  });

  txt(g, 875, 3067, 'DFS', { size: 58, anchor: 'middle' });
  txt(g, 120, 3493, 'DFS (%)', { size: 78, anchor: 'middle', rotate: -90, width: 234 });
  txt(g, 876, 4085, 'Time (years)', { size: 76, anchor: 'middle', width: 371 });
}

function drawSubtypes() {
  const g = svg.append('g');
  const x = d3.scaleLinear().domain([0, 100]).range([2351, 3481]);
  const y = d3.scaleBand().domain(clusterNames).range([3195, 3793]).paddingInner(0.333).paddingOuter(0.09);
  const stacked = clusterNames.map((name, i) => {
    let sum = 0;
    return clusterPct[i].map((v, k) => { const d = { name: name, k: k, x0: sum, x1: sum + v }; sum += v; return d; });
  });
  g.append('g').selectAll('g').data(stacked).enter().append('g').selectAll('rect').data(d => d).enter().append('rect')
    .attr('x', d => x(d.x0)).attr('width', d => x(d.x1) - x(d.x0))
    .attr('y', d => y(d.name)).attr('height', y.bandwidth())
    .attr('fill', d => subtypeColors[d.k]);

  const axX = g.append('g').attr('transform', 'translate(0,3870)')
    .call(d3.axisBottom(x).tickValues([0, 20, 40, 60, 80, 100]).tickSize(24).tickSizeOuter(0).tickPadding(34));
  styleAxis(axX, 4, 50);
  g.append('line').attr('x1', 2349).attr('x2', 3504).attr('y1', 3870).attr('y2', 3870).attr('stroke', '#0a0a0a').attr('stroke-width', 6);
  g.append('line').attr('x1', 2351).attr('x2', 2351).attr('y1', 3114).attr('y2', 3870).attr('stroke', '#0a0a0a').attr('stroke-width', 5);
  clusterNames.forEach((name, i) => {
    const cy = y(name) + y.bandwidth() / 2;
    g.append('line').attr('x1', 2327).attr('x2', 2351).attr('y1', cy).attr('y2', cy).attr('stroke', '#0a0a0a').attr('stroke-width', 5);
    txt(g, 2303, cy + 16, name, { size: 49, anchor: 'end', fill: clusterColors[i], width: 394 - i * -12 });
  });

  subtypes.forEach((s, i) => {
    const ly = 3317 + 69.8 * i;
    g.append('rect').attr('x', 3575).attr('y', ly - 15).attr('width', 59).attr('height', 30).attr('fill', subtypeColors[i]);
    txt(g, 3660, ly + 15, s, { size: 43 });
  });
  txt(g, 2918, 4085, 'Percent', { size: 76, anchor: 'middle', width: 236 });
}
</script>
</body>
</html>
